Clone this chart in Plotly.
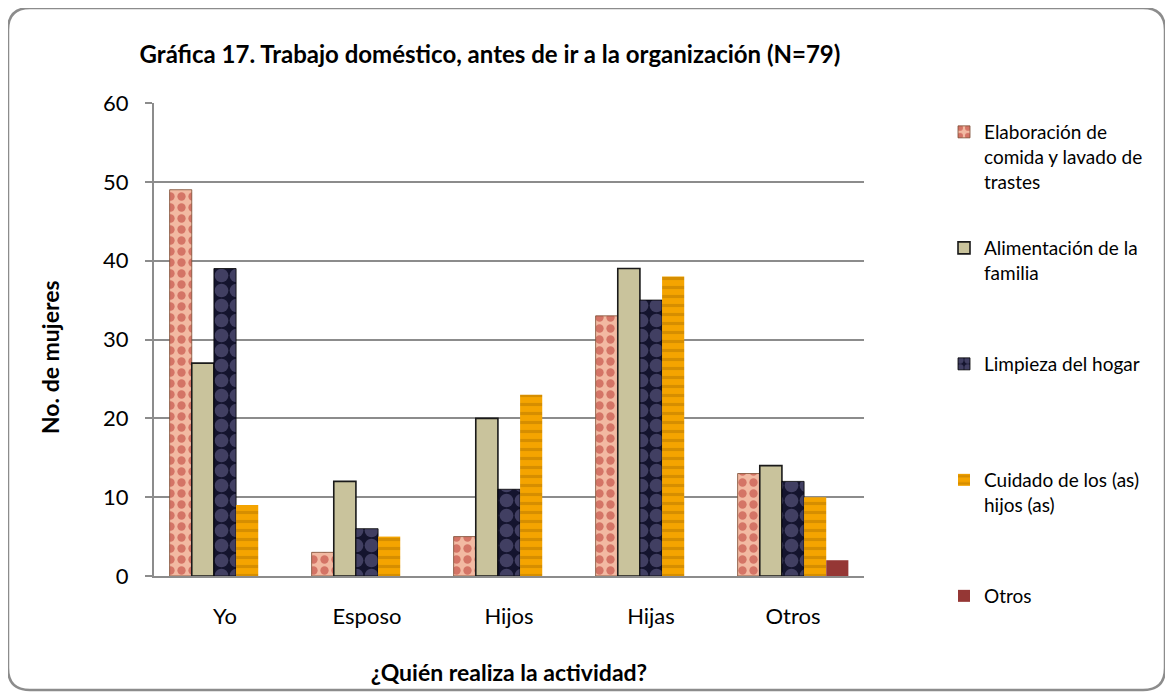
import plotly.graph_objects as go

categories = ["Yo", "Esposo", "Hijos", "Hijas", "Otros"]
series_names = [
    "Elaboración de<br>comida y lavado de<br>trastes",
    "Alimentación de la<br>familia",
    "Limpieza del hogar",
    "Cuidado de los (as)<br>hijos (as)",
    "Otros",
]
elaboracion = [49, 3, 5, 33, 13]
alimentacion = [27, 12, 20, 39, 14]
limpieza = [39, 6, 11, 35, 12]
cuidado = [9, 5, 23, 38, 10]
otros = [0, 0, 0, 0, 2]
values = [elaboracion, alimentacion, limpieza, cuidado, otros]

# the page body adds an 8px margin; work in page pixels and subtract it
OFF = 8
W, H = 1173 - OFF, 698 - OFF
L, R, T, B = 154 - OFF, 864 - OFF, 103 - OFF, 576 - OFF

def px(x):
    return (x - OFF - L) / (R - L)

def py(y):
    return (B - (y - OFF)) / (B - T)

FONT = "Lato"

styles = [
    dict(color="#f2b9a2", line=dict(color="#7a4a30", width=0.8),
         pattern=dict(shape=".", fgcolor="#b5302a", bgcolor="#f2b9a2", size=11, solidity=0.45)),
    dict(color="#c9c39c", line=dict(color="#1a1a1a", width=1.6)),
    dict(color="#14142e", line=dict(color="#000000", width=0.8),
         pattern=dict(shape=".", fgcolor="#6d6a96", bgcolor="#14142e", size=15, solidity=0.65)),
    dict(color="#f5a400", line=dict(width=0),
         pattern=dict(shape="-", fgcolor="#b87800", bgcolor="#f5a400", size=9, solidity=0.35)),
    dict(color="#953735", line=dict(width=0)),
]

legend_names = ["legend", "legend2", "legend3", "legend4", "legend5"]
legend_first_line = [132, 248, 364, 480, 596]

fig = go.Figure()
for i in range(5):
    fig.add_trace(go.Bar(
        x=categories, y=values[i], name=series_names[i],
        marker=styles[i], legend=legend_names[i],
    ))

layout_legends = {}
for i, ln in enumerate(legend_names):
    layout_legends[ln] = dict(
        x=px(944), y=py(legend_first_line[i] - 19), xanchor="left", yanchor="top",
        font=dict(family=FONT, size=19, color="#000000"), valign="top",
        bgcolor="rgba(0,0,0,0)", borderwidth=0, itemwidth=30,
        itemclick=False, itemdoubleclick=False,
    )

# rounded frame path in paper coords
x0, y0, x1, y1, r = 8, 8, 1165, 690, 22
path = (
    f"M {px(x0 + r)},{py(y0)} L {px(x1 - r)},{py(y0)} "
    f"Q {px(x1)},{py(y0)} {px(x1)},{py(y0 + r)} "
    f"L {px(x1)},{py(y1 - r)} Q {px(x1)},{py(y1)} {px(x1 - r)},{py(y1)} "
    f"L {px(x0 + r)},{py(y1)} Q {px(x0)},{py(y1)} {px(x0)},{py(y1 - r)} "
    f"L {px(x0)},{py(y0 + r)} Q {px(x0)},{py(y0)} {px(x0 + r)},{py(y0)} Z"
)

fig.update_layout(
    width=W, height=H,
    margin=dict(l=L, r=W - R, t=T, b=H - B, autoexpand=False),
    paper_bgcolor="white", plot_bgcolor="white",
    barmode="group", bargap=0.22, bargroupgap=0,
    showlegend=True,
    font=dict(family=FONT, color="#000000"),
    title=dict(
        text="<b>Gráfica 17. Trabajo doméstico, antes de ir a la organización (N=79)</b>",
        x=(490 - OFF) / W, xanchor="center", xref="container",
        y=1 - (55 - OFF) / H, yanchor="middle", yref="container",
        font=dict(family=FONT, size=24, color="#000000"),
    ),
    xaxis=dict(
        type="category", showline=True, linecolor="#8c8c8c", linewidth=2,
        showgrid=False, ticks="", tickfont=dict(family=FONT, size=22),
        ticklabelstandoff=20, fixedrange=True,
        title=dict(text="<b>¿Quién realiza la actividad?</b>",
                   font=dict(family=FONT, size=23), standoff=36),
    ),
    yaxis=dict(
        range=[0, 60], dtick=10, showline=True, linecolor="#8c8c8c", linewidth=2,
        showgrid=True, gridcolor="#8c8c8c", gridwidth=1.5,
        ticks="outside", ticklen=7, tickcolor="#8c8c8c", tickwidth=1.5,
        tickfont=dict(family=FONT, size=22), ticklabelstandoff=12,
        zeroline=False, fixedrange=True,
    ),
    annotations=[dict(
        text="<b>No. de mujeres</b>", textangle=-90,
        x=px(50), y=py(357), xref="paper", yref="paper",
        xanchor="center", yanchor="middle", showarrow=False,
        font=dict(family=FONT, size=23, color="#000000"),
    )],
    shapes=[dict(type="path", path=path, xref="paper", yref="paper",
                 line=dict(color="#8c8c8c", width=2.5), layer="below")],
    **layout_legends,
)

fig.write_html("out.html")
